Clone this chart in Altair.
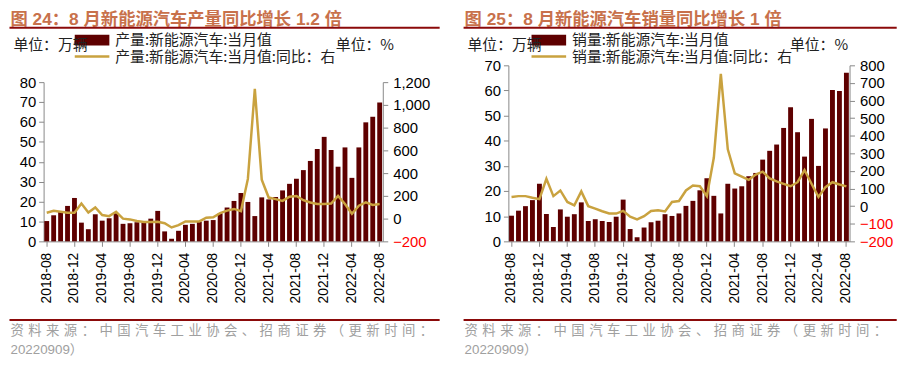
import altair as alt
import pandas as pd

# ---------------- data ----------------
all_months = [f"{y}-{m:02d}" for y in range(2018, 2023) for m in range(1, 13)]
months = all_months[all_months.index("2018-08"): all_months.index("2022-08") + 1]
tick_months = months[::4]

# 产量 (万辆)
prod = [10.2, 13.1, 14.7, 17.8, 21.8,
        9.4, 6.1, 13.6, 10.4, 11.6, 14.1, 8.8, 9.1, 9.6, 9.4, 11.4, 15.3,
        5.0, 1.3, 5.3, 8.3, 8.8, 9.9, 10.4, 10.7, 14.1, 17.0, 20.3, 24.3,
        19.8, 12.7, 22.1, 21.1, 22.3, 25.6, 28.9, 31.4, 35.8, 40.4, 46.4, 52.5,
        45.9, 37.5, 47.2, 31.9, 47.2, 59.8, 62.6, 69.8]
# 产量同比 (%)
prod_yoy = [52, 68, 60, 52, 52,
            132, 54, 98, 31, 22, 60, 0, -7, -21, -30, -30, -28,
            -41, -78, -58, -25, -25, -25, 8, 12, 48, 70, 85, 66,
            349, 1140, 342, 185, 171, 156, 193, 199, 162, 142, 128, 128,
            133, 199, 128, 43, 114, 142, 120, 128]
# 销量 (万辆)
sales = [10.2, 12.2, 14.0, 16.4, 22.9,
         10.9, 5.7, 12.7, 9.8, 10.8, 15.5, 8.1, 8.8, 8.1, 7.7, 9.8, 16.6,
         4.9, 1.6, 5.5, 7.6, 8.2, 10.8, 10.1, 11.1, 14.1, 16.1, 20.3, 25.1,
         18.1, 11.1, 22.9, 21.0, 21.9, 25.9, 27.2, 32.5, 36.0, 38.5, 45.1, 53.3,
         43.4, 33.7, 48.7, 30.0, 44.9, 60.2, 59.8, 67.0]
# 销量同比 (%)
sales_yoy = [52, 57, 57, 48, 40,
             155, 57, 89, 24, 5, 84, 0, -14, -29, -42, -42, -27,
             -60, -75, -57, -27, -23, -30, 24, 29, 89, 117, 113, 57,
             276, 752, 323, 186, 168, 149, 179, 196, 158, 141, 127, 113,
             136, 205, 127, 52, 108, 136, 123, 112]

source1 = "资料来源：中国汽车工业协会、招商证券（更新时间："
source2 = "20220909）"

# ---------------- style ----------------
BAR = "#5e0000"
LINE = "#c9a23f"
TITLE_C = "#c8714b"
RULE_C = "#8b0a0a"
GREY = "#a0a0a0"
AXIS_C = "#888888"
CJK = "Noto Sans CJK SC"
LAT = "Liberation Sans"
MIX = "Liberation Sans, Noto Sans CJK SC"
H = 178


def spaced(s):
    return "\u2004".join(list(s))


def txt(s, x, y, size=15, color="#222222", font=CJK, weight="normal"):
    return alt.Chart(pd.DataFrame({"t": [s]})).mark_text(
        align="left", baseline="middle", fontSize=size, color=color,
        font=font, fontWeight=weight
    ).encode(x=alt.value(x), y=alt.value(y), text="t:N")


def hrule(x1, x2, y, color, w):
    return alt.Chart(pd.DataFrame({"a": [0]})).mark_rule(
        color=color, strokeWidth=w
    ).encode(x=alt.value(x1), x2=alt.value(x2), y=alt.value(y))


def panel(vals, yoy, W, ymax, top, rmin, rmax, rstep, title, leg1, leg2, xl, xr, lg):
    df = pd.DataFrame({"month": months, "v": vals, "r": yoy})
    base = alt.Chart(df)
    xenc = alt.X(
        "month:O",
        scale=alt.Scale(domain=months, paddingInner=0.3, paddingOuter=0.1),
        axis=alt.Axis(
            values=tick_months, labelAngle=270, labelAlign="right",
            labelBaseline="middle", labelFontSize=14, labelFont=LAT,
            labelColor="black", domainColor=AXIS_C, tickColor=AXIS_C,
            tickSize=5, labelPadding=6, title=None,
        ),
    )
    bars = base.mark_bar(color=BAR).encode(
        x=xenc,
        y=alt.Y(
            "v:Q",
            scale=alt.Scale(domain=[0, ymax], range=[H, top], nice=False, zero=True),
            axis=alt.Axis(
                orient="left", values=list(range(0, ymax + 1, 10)),
                labelFontSize=15, labelFont=LAT, labelColor="black",
                domainColor=AXIS_C, tickColor=AXIS_C, tickSize=5,
                labelPadding=3, grid=False, title=None,
            ),
        ),
    )
    line = base.mark_line(color=LINE, strokeWidth=2.5).encode(
        x=xenc,
        y=alt.Y(
            "r:Q",
            scale=alt.Scale(domain=[rmin, rmax], range=[H, top], nice=False, zero=False),
            axis=alt.Axis(
                orient="right", values=list(range(rmin, rmax + 1, rstep)),
                format=",d", labelFontSize=15, labelFont=LAT,
                labelColor={"condition": {"test": "datum.value < 0", "value": "#ff0000"},
                            "value": "black"},
                domainColor=AXIS_C, tickColor=AXIS_C, tickSize=5,
                labelPadding=5, grid=False, title=None,
            ),
        ),
    )
    deco = [
        txt(title, xl + 1, -46.25, size=17.5, color=TITLE_C, font=MIX, weight="bold"),
        hrule(xl, xr, -38, RULE_C, 2.2),
        alt.Chart(pd.DataFrame({"a": [0]})).mark_rect(color=BAR).encode(
            x=alt.value(lg), x2=alt.value(lg + 35), y=alt.value(-31), y2=alt.value(-20)
        ),
        txt("单位：万辆", xl + 4, -20),
        txt(leg1, lg + 41, -26),
        hrule(lg, lg + 35, -9, LINE, 2.5),
        txt(leg2, lg + 41, -8),
        txt("单位：%", xl + 330, -20),
        hrule(xl, xr, 257.5, RULE_C, 2.2),
        txt(spaced(source1), xl + 1, 269, size=13.5, color=GREY),
        txt(source2, xl + 1, 288, size=13.5, color=GREY, font=MIX),
    ]
    return alt.layer(bars, line, *deco).resolve_scale(y="independent").properties(
        width=W, height=H
    )


left = panel(prod, prod_yoy, 343, 80, 17, -200, 1200, 200,
             "图 24：8 月新能源汽车产量同比增长 1.2 倍",
             "产量:新能源汽车:当月值", "产量:新能源汽车:当月值:同比：右",
             -34.5, 400.5, 31.5)
right = panel(sales, sales_yoy, 345, 70, 0, -200, 800, 100,
              "图 25：8 月新能源汽车销量同比增长 1 倍",
              "销量:新能源汽车:当月值", "销量:新能源汽车:当月值:同比：右",
              -45.3, 392.7, 23.4)

chart = alt.hconcat(left, right, spacing=21).properties(padding=0).configure_view(
    strokeWidth=0
)

chart.save("out.html", embed_options={"renderer": "svg", "actions": False})
